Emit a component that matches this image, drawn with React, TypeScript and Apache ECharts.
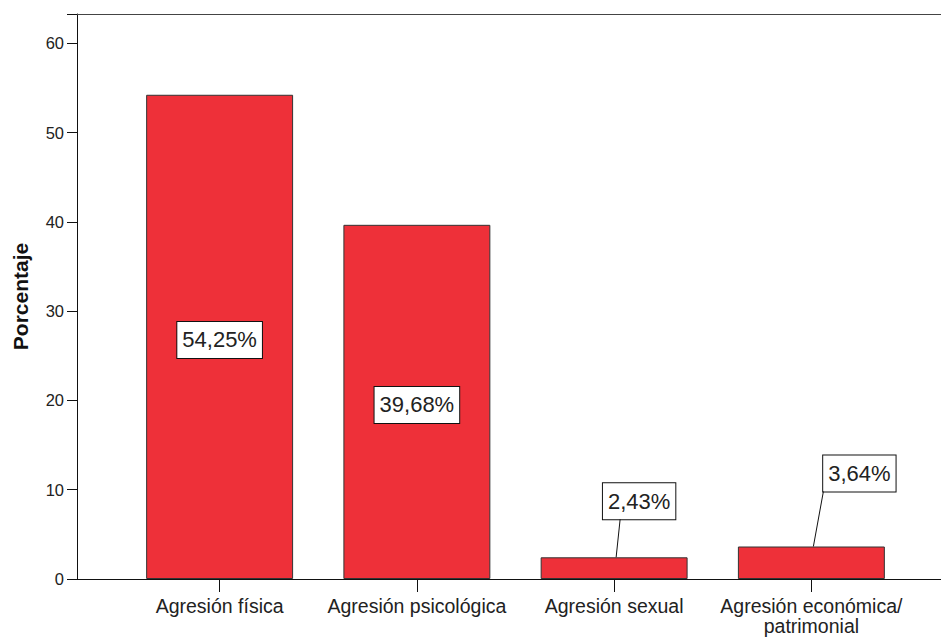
import React, { useEffect, useRef } from "react";
import * as echarts from "echarts";

const categories = ["Agresión física", "Agresión psicológica", "Agresión sexual", "Agresión económica/\npatrimonial"];
const percentages = [54.25, 39.68, 2.43, 3.64];
const yTicks = [0, 10, 20, 30, 40, 50, 60];
const yTitle = "Porcentaje";

const FONT = "'Liberation Sans', Arial, sans-serif";

// label offsets for the small bars (relative to bar top-centre)
const calloutDx = [0, 0, 25, 48];
const calloutDy = [0, 0, 56, 73];
const leaderEndDx = [0, 0, 6, 12];

export default function App() {
  const ref = useRef<HTMLDivElement>(null);
  useEffect(() => {
    if (!ref.current) return;
    const chart = echarts.init(ref.current, undefined, { renderer: "svg" });
    const yMax = 63.3;
    const outsideLabel = (i: number) => i >= 2;
    const option: any = {
      animation: false,
      backgroundColor: "#ffffff",
      grid: [
        { left: 77, right: 0, top: 14, bottom: 59, containLabel: false },
        { left: 121, right: 31, top: 14, bottom: 59, containLabel: false },
      ],
      xAxis: [
        {
          type: "value", gridIndex: 0, position: "bottom", min: 0, max: 1,
          axisLine: { show: true, lineStyle: { color: "#111", width: 1 } },
          axisTick: { show: false }, axisLabel: { show: false }, splitLine: { show: false },
        },
        {
          type: "value", gridIndex: 0, position: "top", min: 0, max: 1,
          axisLine: { show: true, lineStyle: { color: "#444", width: 1 } },
          axisTick: { show: false }, axisLabel: { show: false }, splitLine: { show: false },
        },
        {
          type: "category", gridIndex: 1, data: categories,
          axisLine: { show: true, lineStyle: { color: "#111", width: 1 } },
          axisTick: { show: true, alignWithLabel: true, length: 13, lineStyle: { color: "#111" } },
          axisLabel: {
            interval: 0, margin: 17, fontSize: 19.5, lineHeight: 20,
            color: "#222", fontFamily: FONT,
          },
          splitLine: { show: false },
        },
      ],
      yAxis: [
        {
          type: "value", gridIndex: 0, min: 0, max: yMax, interval: 10,
          axisLine: { show: true, lineStyle: { color: "#111", width: 1 } },
          axisTick: { show: true, length: 10, lineStyle: { color: "#111" } },
          axisLabel: {
            margin: 13, fontSize: 16.5, color: "#222", fontFamily: FONT,
            formatter: (v: number) => (yTicks.includes(v) ? String(v) : ""),
          },
          splitLine: { show: false },
          name: yTitle, nameLocation: "middle", nameGap: 46,
          nameTextStyle: { fontSize: 21, fontWeight: "bold", color: "#111", fontFamily: FONT },
        },
        { type: "value", gridIndex: 1, min: 0, max: yMax, show: false },
      ],
      series: [
        {
          type: "bar",
          xAxisIndex: 2,
          yAxisIndex: 1,
          barWidth: "74.5%",
          data: percentages.map((v, i) => ({
            value: v,
            label: { position: outsideLabel(i) ? "top" : "inside" },
          })),
          itemStyle: { color: "#EE3039", borderColor: "#333", borderWidth: 1 },
          label: {
            show: true,
            formatter: (p: any) => `${p.value.toFixed(2).replace(".", ",")}%`,
            fontSize: 22,
            lineHeight: 22,
            color: "#222",
            fontFamily: FONT,
            backgroundColor: "#ffffff",
            borderColor: "#111",
            borderWidth: 1,
            padding: [7, 5, 7, 5],
          },
          labelLayout: (params: any) => {
            const i = params.dataIndex;
            const r = params.rect;
            const cx = r.x + r.width / 2;
            if (outsideLabel(i)) {
              return { x: cx + calloutDx[i], y: r.y - calloutDy[i], align: "center", verticalAlign: "middle" };
            }
            return { dy: 3 };
          },
        },
      ],
    };
    chart.setOption(option);

    // leader lines from the small bars to their callout boxes, positioned through the series' scales
    const lines: any[] = [];
    percentages.forEach((v, i) => {
      if (!outsideLabel(i)) return;
      const p = chart.convertToPixel({ seriesIndex: 0 }, [i, v]) as number[];
      const cx = p[0];
      const top = p[1];
      const boxBottom = top - calloutDy[i] + 18;
      lines.push({
        type: "line",
        silent: true,
        z: 10,
        shape: { x1: cx + 2, y1: top, x2: cx + leaderEndDx[i], y2: boxBottom },
        style: { stroke: "#111", lineWidth: 1 },
      });
    });
    chart.setOption({ graphic: lines });
    return () => chart.dispose();
  }, []);
  return (
    <div
      ref={ref}
      style={{ position: "fixed", left: 0, top: 0, width: 941, height: 638, background: "#fff" }}
    />
  );
}
